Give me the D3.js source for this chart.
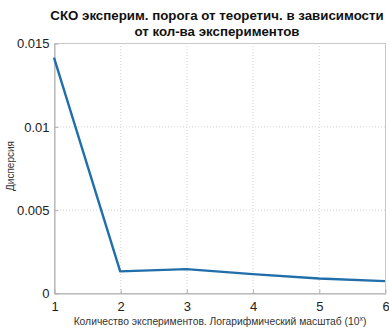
<!DOCTYPE html>
<html>
<head>
<meta charset="utf-8">
<script src="https://cdn.jsdelivr.net/npm/d3@7"></script>
<style>
  html, body { margin: 0; padding: 0; background: #fff; }
  svg { display: block; font-family: "Liberation Sans", Arial, sans-serif; }
</style>
</head>
<body>
<svg id="chart" width="389" height="330"></svg>
<script>
// Data: std. deviation of the experimental threshold vs. number of experiments (log10)
const expPower = [1, 2, 3, 4, 5, 6];
const dispersion = [0.01412, 0.00130, 0.00143, 0.00113, 0.00087, 0.00071];
const xTicks = [1, 2, 3, 4, 5, 6];
const yTicks = [0, 0.005, 0.01, 0.015];
const yTickLabels = ["0", "0.005", "0.01", "0.015"];
const titleLines = ["СКО эксперим. порога от теоретич. в зависимости", "от кол-ва экспериментов"];

const svg = d3.select("#chart");
const m = { left: 54, right: 385, top: 43, bottom: 293 };

const x = d3.scaleLinear().domain([1, 6]).range([m.left, m.right]);
const y = d3.scaleLinear().domain([0, 0.015]).range([m.bottom, m.top]);

// grid
const grid = svg.append("g");
grid.selectAll(".gx").data(xTicks.slice(1, -1)).join("line")
  .attr("x1", d => x(d) + 0.5).attr("x2", d => x(d) + 0.5)
  .attr("y1", m.top).attr("y2", m.bottom)
  .attr("stroke", "#d4d4d4").attr("stroke-width", 1).attr("stroke-dasharray", "1,2");
grid.selectAll(".gy").data(yTicks.slice(1, -1)).join("line")
  .attr("x1", m.left).attr("x2", m.right)
  .attr("y1", d => y(d) + 0.5).attr("y2", d => y(d) + 0.5)
  .attr("stroke", "#d4d4d4").attr("stroke-width", 1).attr("stroke-dasharray", "1,2");

// axes box
svg.append("rect")
  .attr("x", m.left + 0.5).attr("y", m.top + 0.5)
  .attr("width", m.right - m.left).attr("height", m.bottom - m.top)
  .attr("fill", "none").attr("stroke", "#c8c8c8").attr("stroke-width", 1);

// bottom axis
const xAxis = d3.axisBottom(x).tickValues(xTicks).tickFormat(d3.format("d"))
  .tickSizeInner(-4).tickSizeOuter(0).tickPadding(8);
const gx = svg.append("g").attr("transform", `translate(0.5,${m.bottom + 0.5})`).call(xAxis);
gx.select(".domain").attr("stroke", "#b0b0b0");
gx.selectAll(".tick line").attr("stroke", "#b0b0b0");
gx.selectAll(".tick text").attr("font-size", 13).attr("fill", "#222")
  .attr("font-family", "Liberation Sans, Arial, sans-serif");

// left axis
const yAxis = d3.axisLeft(y).tickValues(yTicks).tickFormat((d, i) => yTickLabels[i])
  .tickSizeInner(-4).tickSizeOuter(0).tickPadding(5);
const gy = svg.append("g").attr("transform", `translate(${m.left + 0.5},0.5)`).call(yAxis);
gy.select(".domain").attr("stroke", "#b0b0b0");
gy.selectAll(".tick line").attr("stroke", "#b0b0b0");
gy.selectAll(".tick text").attr("font-size", 13).attr("fill", "#222")
  .attr("font-family", "Liberation Sans, Arial, sans-serif");

// data line
const line = d3.line().x((d, i) => x(expPower[i])).y(d => y(d));
svg.append("path").datum(dispersion)
  .attr("d", line)
  .attr("fill", "none")
  .attr("stroke", "#206fab")
  .attr("stroke-width", 2.4)
  .attr("stroke-linejoin", "round");

// title
svg.append("text")
  .attr("text-anchor", "middle").attr("font-size", 13.3).attr("font-weight", "bold").attr("fill", "#111")
  .selectAll("tspan").data(titleLines).join("tspan")
  .attr("x", 217).attr("y", (d, i) => 20 + i * 16).text(d => d);

// x label
const xl = svg.append("text")
  .attr("x", 220).attr("y", 325)
  .attr("text-anchor", "middle").attr("font-size", 10.3).attr("fill", "#333");
xl.append("tspan").text("Количество экспериментов. Логарифмический масштаб (10");
xl.append("tspan").attr("dy", -4).attr("font-size", 7).text("x");
xl.append("tspan").attr("dy", 4).text(")");

// y label
svg.append("text")
  .attr("transform", `translate(14,166) rotate(-90)`)
  .attr("text-anchor", "middle").attr("font-size", 10).attr("fill", "#333")
  .text("Дисперсия");
</script>
</body>
</html>
